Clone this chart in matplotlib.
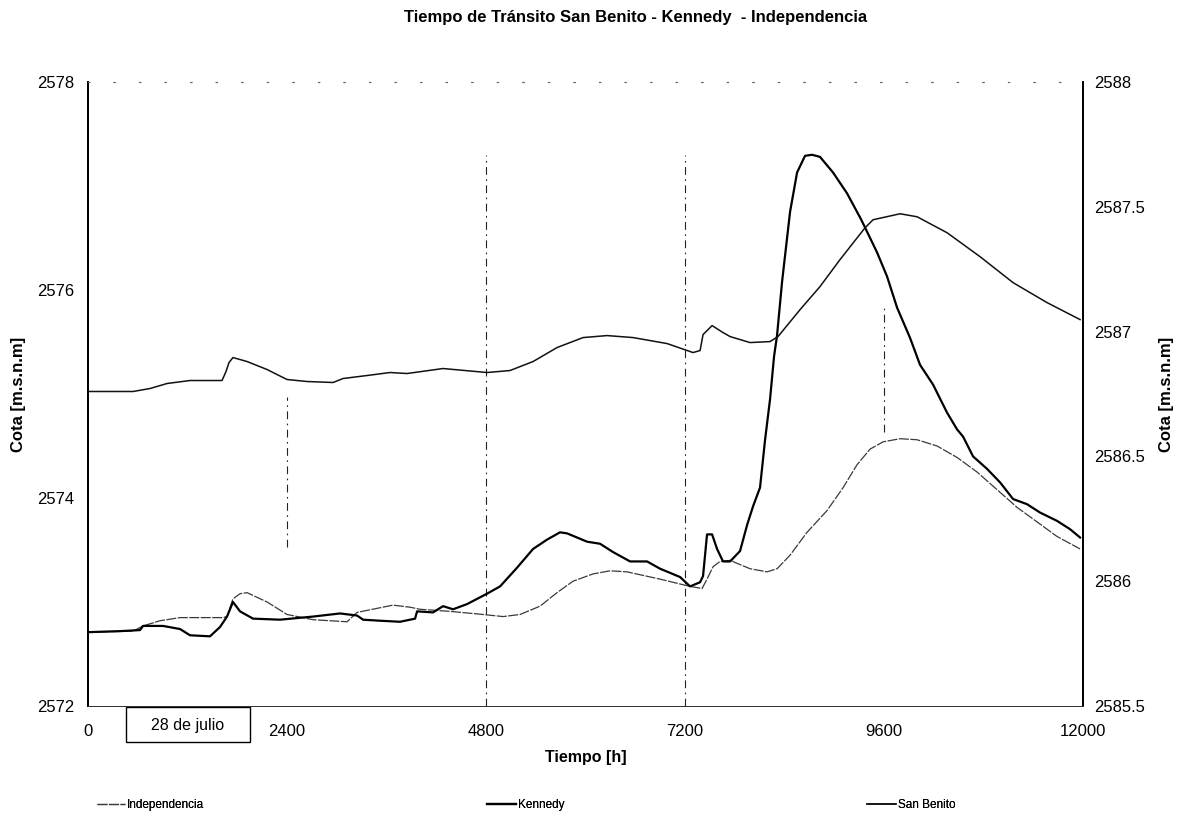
import matplotlib
matplotlib.use("Agg")
import matplotlib.pyplot as plt
from matplotlib.patches import Rectangle
from matplotlib.ticker import FuncFormatter

plt.rcParams['font.family'] = ['Liberation Sans', 'DejaVu Sans']

# ---------------- data ----------------
title = "Tiempo de Tránsito San Benito - Kennedy  - Independencia"
x_label = "Tiempo [h]"
y_label = "Cota [m.s.n.m]"
x_ticks = [0, 2400, 4800, 7200, 9600, 12000]
left_ticks = [2572, 2574, 2576, 2578]
right_ticks = [2585.5, 2586, 2586.5, 2587, 2587.5, 2588]
box_label = "28 de julio"

# Kennedy (left axis)
t_ken = [0, 386, 627, 663, 904, 1110, 1230, 1471, 1592, 1676,
         1748, 1833, 1990, 2315, 2713, 3039, 3244, 3317, 3522, 3763,
         3944, 3968, 4161, 4281, 4402, 4571, 4812, 4969, 5174, 5367,
         5536, 5692, 5777, 6018, 6175, 6332, 6537, 6742, 6899, 7140,
         7260, 7381, 7417, 7465, 7526, 7586, 7658, 7743, 7863, 7948,
         8020, 8104, 8165, 8225, 8273, 8309, 8370, 8466, 8551, 8647,
         8731, 8827, 8984, 9153, 9322, 9395, 9516, 9636, 9757, 9913,
         10034, 10191, 10360, 10480, 10553, 10673, 10842, 10999, 11156, 11325,
         11481, 11686, 11843, 11964]
v_ken = [2572.71, 2572.72, 2572.73, 2572.77, 2572.77, 2572.74, 2572.68, 2572.67, 2572.76, 2572.86,
         2573.00, 2572.91, 2572.84, 2572.83, 2572.86, 2572.89, 2572.87, 2572.83, 2572.82, 2572.81,
         2572.84, 2572.91, 2572.90, 2572.96, 2572.93, 2572.98, 2573.08, 2573.15, 2573.33, 2573.51,
         2573.60, 2573.67, 2573.66, 2573.58, 2573.56, 2573.48, 2573.39, 2573.39, 2573.32, 2573.24,
         2573.15, 2573.19, 2573.25, 2573.65, 2573.65, 2573.51, 2573.39, 2573.39, 2573.49, 2573.74,
         2573.92, 2574.10, 2574.56, 2574.95, 2575.36, 2575.56, 2576.08, 2576.75, 2577.13, 2577.29,
         2577.30, 2577.28, 2577.13, 2576.93, 2576.68, 2576.56, 2576.36, 2576.13, 2575.83, 2575.54,
         2575.28, 2575.09, 2574.82, 2574.66, 2574.59, 2574.40, 2574.28, 2574.15, 2573.99, 2573.94,
         2573.86, 2573.78, 2573.70, 2573.62]

# Independencia (left axis)
t_ind = [0, 543, 663, 868, 1110, 1628, 1676, 1748, 1833, 1918,
         2159, 2400, 2714, 3124, 3244, 3678, 3883, 4004, 4366, 4764,
         5005, 5210, 5451, 5656, 5849, 6090, 6295, 6500, 6898, 7260,
         7405, 7465, 7538, 7622, 7743, 7984, 8189, 8310, 8466, 8671,
         8913, 9106, 9274, 9431, 9588, 9793, 9998, 10239, 10480, 10721,
         10963, 11204, 11445, 11686, 11964]
v_ind = [2572.71, 2572.72, 2572.77, 2572.82, 2572.85, 2572.85, 2572.86, 2573.03, 2573.08, 2573.09,
         2573.00, 2572.88, 2572.83, 2572.81, 2572.90, 2572.97, 2572.95, 2572.93, 2572.91, 2572.88,
         2572.86, 2572.88, 2572.96, 2573.09, 2573.20, 2573.27, 2573.30, 2573.29, 2573.22, 2573.15,
         2573.13, 2573.22, 2573.34, 2573.39, 2573.40, 2573.32, 2573.29, 2573.32, 2573.45, 2573.67,
         2573.88, 2574.10, 2574.32, 2574.47, 2574.54, 2574.57, 2574.56, 2574.50, 2574.39, 2574.25,
         2574.08, 2573.91, 2573.77, 2573.63, 2573.51]

# San Benito (right axis)
t_sb = [0, 543, 748, 953, 1230, 1616, 1664, 1700, 1748, 1918,
        2159, 2400, 2641, 2955, 3075, 3365, 3642, 3847, 4281, 4812,
        5089, 5367, 5656, 5970, 6259, 6573, 6983, 7296, 7381, 7417,
        7526, 7658, 7743, 7984, 8225, 8321, 8587, 8827, 9068, 9371,
        9467, 9793, 9998, 10360, 10758, 11156, 11566, 11964]
v_sb = [2586.760, 2586.760, 2586.772, 2586.792, 2586.804, 2586.804, 2586.840, 2586.876, 2586.896, 2586.880,
        2586.848, 2586.808, 2586.800, 2586.796, 2586.812, 2586.824, 2586.836, 2586.832, 2586.852, 2586.836,
        2586.844, 2586.880, 2586.936, 2586.976, 2586.984, 2586.976, 2586.952, 2586.916, 2586.924, 2586.988,
        2587.024, 2586.996, 2586.980, 2586.956, 2586.960, 2586.980, 2587.088, 2587.180, 2587.288, 2587.416,
        2587.448, 2587.472, 2587.460, 2587.396, 2587.300, 2587.196, 2587.116, 2587.048]

# faint dash-dot vertical marks left in the scan (time, low, high on left axis)
mark_t = [2400, 4800, 7200, 9600]
mark_lo = [2573.53, 2572.00, 2572.00, 2574.63]
mark_hi = [2574.97, 2577.30, 2577.30, 2575.83]

# ---------------- figure ----------------
fig = plt.figure(figsize=(11.77, 8.18), dpi=100)
ax = fig.add_axes([0.0748, 0.1369, 0.8454, 0.7629])
ax2 = ax.twinx()

ax.set_xlim(0, 12000)
ax.set_ylim(2572, 2578)
ax2.set_ylim(2585.5, 2588)

for tt, lo, hi in zip(mark_t, mark_lo, mark_hi):
    ax.vlines(tt, lo, hi, colors='#222222', linewidth=0.8,
              linestyles=(0, (7, 4, 1.5, 4)), zorder=1)

l_ind, = ax.plot(t_ind, v_ind, color='#3a3a3a', lw=0.9, ls=(0, (8, 1.2)), zorder=3)
l_ken, = ax.plot(t_ken, v_ken, color='black', lw=1.6, zorder=4)
l_sb, = ax2.plot(t_sb, v_sb, color='#111111', lw=1.1, zorder=3)

ax.set_xticks(x_ticks)
ax.set_yticks(left_ticks)
ax2.set_yticks(right_ticks)
fmt = FuncFormatter(lambda v, p: ('%g' % v))
ax.yaxis.set_major_formatter(fmt)
ax2.yaxis.set_major_formatter(fmt)
ax.xaxis.set_major_formatter(FuncFormatter(lambda v, p: '%d' % v))

ax.tick_params(axis='both', length=0, labelsize=12)
ax.tick_params(axis='x', pad=13)
ax.tick_params(axis='y', pad=10)
ax2.tick_params(axis='y', length=0, labelsize=12, pad=8)

for a in (ax, ax2):
    a.spines['left'].set_linewidth(1.3)
    a.spines['right'].set_linewidth(1.3)
    a.spines['bottom'].set_linewidth(0.7)
    a.spines['bottom'].set_color('#333333')
    a.spines['top'].set_linewidth(0.8)
    a.spines['top'].set_linestyle((0, (1, 22)))
    a.spines['top'].set_color('#666666')

ax.set_xlabel(x_label, fontsize=11.5, fontweight='bold', labelpad=8)
ax.set_ylabel(y_label, fontsize=12, fontweight='bold', labelpad=8)
ax2.set_ylabel(y_label, fontsize=12, fontweight='bold', labelpad=10)
fig.text(0.54, 0.979, title, ha='center', va='center', fontsize=12, fontweight='bold')

# "28 de julio" box
ax.add_patch(Rectangle((0.0382, -0.0577), 0.1246, 0.0561, transform=ax.transAxes,
                       facecolor='white', edgecolor='black', lw=1.0, clip_on=False, zorder=10))
ax.text(0.1005, -0.031, box_label, transform=ax.transAxes, ha='center', va='center',
        fontsize=11.5, zorder=11, clip_on=False)

# legend: three separate entries spread under the chart
leg_font = {'family': ['Liberation Sans Narrow', 'Liberation Sans', 'DejaVu Sans'], 'size': 8.5}
entries = [(l_ind, 'Independencia', 0.082), (l_ken, 'Kennedy', 0.414), (l_sb, 'San Benito', 0.737)]
for h, lab, xpos in entries:
    lg = fig.legend([h], [lab], loc='center left', bbox_to_anchor=(xpos, 0.016),
                    frameon=False, prop=leg_font, handlelength=2.4, handletextpad=0.2,
                    borderpad=0, borderaxespad=0)
    fig.add_artist(lg)

fig.savefig('out.png', dpi=100)
